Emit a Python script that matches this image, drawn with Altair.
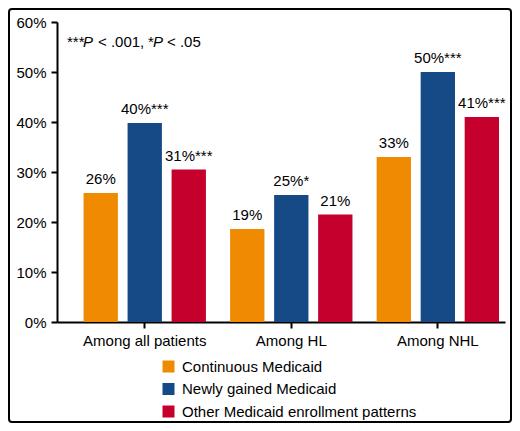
import pandas as pd
import altair as alt

# data
groups = ["Among all patients", "Among HL", "Among NHL"]
series = ["Continuous Medicaid", "Newly gained Medicaid", "Other Medicaid enrollment patterns"]
colors = ["#F08A00", "#154A86", "#C6002C"]
values = {
    "Continuous Medicaid": [25.8, 18.6, 33.0],
    "Newly gained Medicaid": [39.8, 25.4, 50.0],
    "Other Medicaid enrollment patterns": [30.5, 21.5, 41.0],
}
labels = {
    "Continuous Medicaid": ["26%", "19%", "33%"],
    "Newly gained Medicaid": ["40%***", "25%*", "50%***"],
    "Other Medicaid enrollment patterns": ["31%***", "21%", "41%***"],
}

rows = []
for s in series:
    for i, g in enumerate(groups):
        rows.append({"group": g, "series": s, "value": values[s][i], "label": labels[s][i]})
df = pd.DataFrame(rows)

FONT = "Liberation Sans"

x = alt.X("group:N", sort=groups, title=None,
          scale=alt.Scale(paddingInner=0.099, paddingOuter=0.078, align=0.95),
          axis=alt.Axis(labelAngle=0, labelFontSize=15, labelColor="black",
                        domainColor="black", domainWidth=2, tickColor="black",
                        tickWidth=2, tickSize=6, labelPadding=5, labelFont=FONT))
xo = alt.XOffset("series:N", sort=series,
                 scale=alt.Scale(paddingInner=0.22, paddingOuter=0.11))
y = alt.Y("value:Q", title=None,
          scale=alt.Scale(domain=[0, 60]),
          axis=alt.Axis(values=[0, 10, 20, 30, 40, 50, 60], labelExpr="datum.value + '%'",
                        grid=False, labelFontSize=15, labelColor="black",
                        domainColor="black", domainWidth=2, tickColor="black",
                        tickWidth=2, tickSize=6, labelPadding=5, labelFont=FONT))

base = alt.Chart(df)

bars = base.mark_bar().encode(
    x=x, xOffset=xo, y=y,
    color=alt.Color("series:N", sort=series, title=None,
                    scale=alt.Scale(domain=series, range=colors),
                    legend=alt.Legend(orient="none", legendX=104, legendY=337,
                                      symbolType="square", symbolSize=144,
                                      symbolStrokeWidth=0, symbolOpacity=1,
                                      labelFontSize=15, labelFont=FONT, labelColor="black",
                                      labelLimit=0, labelOffset=6, rowPadding=6.5, padding=0)),
)

text = base.mark_text(baseline="alphabetic", dy=-9, fontSize=15, font=FONT, color="black").encode(
    x=x, xOffset=xo, y=y, text="label:N"
)

# significance note, top left (italic P)
note_style = dict(align="left", baseline="alphabetic", fontSize=15, font=FONT, color="black")
note = [
    ("***", "normal", 10),
    ("P", "italic", 26),
    ("< .001,", "normal", 41),
    ("*", "normal", 91),
    ("P", "italic", 96),
    ("< .05", "normal", 110),
]
note_layers = [
    alt.Chart().mark_text(text=t, fontStyle=st, **note_style).encode(x=alt.value(px), y=alt.value(25))
    for t, st, px in note
]

frame = alt.Chart().mark_rect(fill=None, stroke="black", strokeWidth=2, cornerRadius=3).encode(
    x=alt.value(-48), x2=alt.value(454), y=alt.value(-13), y2=alt.value(400)
)

chart = alt.layer(bars, text, *note_layers, frame).properties(
    width=448, height=300,
    autosize=alt.AutoSizeParams(type="none"),
    padding={"left": 49, "top": 14, "right": 7, "bottom": 101},
).configure_view(stroke=None).configure_axis(labelFont=FONT)

chart.save("out.html", embed_options={"renderer": "svg", "actions": False})
